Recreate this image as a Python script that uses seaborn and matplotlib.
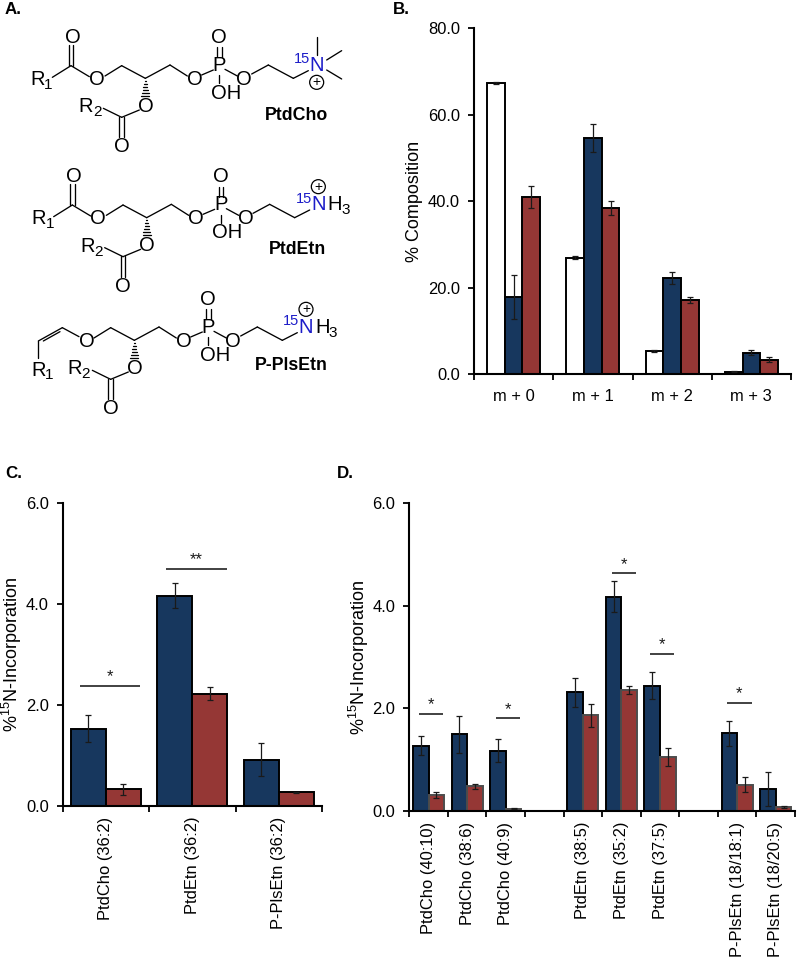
import pandas as pd
import matplotlib
matplotlib.use("Agg")
import matplotlib.pyplot as plt
from matplotlib.patches import Circle
import seaborn as sns

# === Panel B values ===
b_labels = ["m + 0", "m + 1", "m + 2", "m + 3"]
b_series = ["control", "blue", "red"]
b_control = [67.3, 26.9, 5.3, 0.5]
b_control_err = [0.2, 0.4, 0.2, 0.1]
b_blue = [17.9, 54.6, 22.2, 4.9]
b_blue_err = [5.1, 3.2, 1.4, 0.6]
b_red = [41.0, 38.5, 17.2, 3.3]
b_red_err = [2.6, 1.6, 0.7, 0.6]

# === Panel C values ===
c_labels = ["PtdCho (36:2)", "PtdEtn (36:2)", "P-PlsEtn (36:2)"]
c_blue = [1.53, 4.17, 0.91]
c_blue_err = [0.26, 0.24, 0.33]
c_red = [0.33, 2.22, 0.27]
c_red_err = [0.11, 0.13, 0.01]
c_sig_groups = [0, 1]
c_sig_heights = [2.38, 4.70]
c_sig_marks = ["*", "**"]

# === Panel D values (empty strings are the gaps between lipid classes) ===
d_labels = ["PtdCho (40:10)", "PtdCho (38:6)", "PtdCho (40:9)", "",
            "PtdEtn (38:5)", "PtdEtn (35:2)", "PtdEtn (37:5)", " ",
            "P-PlsEtn (18/18:1)", "P-PlsEtn (18/20:5)"]
d_blue = [1.27, 1.49, 1.17, None, 2.31, 4.18, 2.44, None, 1.51, 0.42]
d_blue_err = [0.18, 0.36, 0.22, None, 0.28, 0.30, 0.26, None, 0.25, 0.33]
d_red = [0.31, 0.48, 0.04, None, 1.86, 2.36, 1.05, None, 0.51, 0.08]
d_red_err = [0.06, 0.05, 0.01, None, 0.22, 0.08, 0.18, None, 0.14, 0.02]
d_sig_groups = [0, 2, 5, 6, 8]
d_sig_heights = [1.89, 1.80, 4.63, 3.06, 2.11]
d_sig_marks = ["*", "*", "*", "*", "*"]

# Structure drawing, in units of 1/3 pixel
backbone_bonds = [
    ((315, 228), (365, 197)), ((365, 197), (436, 235)), ((436, 235), (510, 195)),
    ((510, 195), (562, 228)), ((605, 225), (640, 210)), ((658, 226), (658, 250)),
    ((675, 208), (712, 228)), ((755, 222), (805, 195)), ((805, 195), (880, 235)),
    ((880, 235), (925, 212)), ((418, 330), (365, 352)), ((365, 352), (310, 325)),
]
backbone_atoms = [("O", 585, 238), ("P", 658, 197), ("O", 658, 113), ("OH", 678, 280),
                  ("O", 733, 238), ("O", 437, 318), ("O", 365, 440)]
ester_bonds = [((157, 232), (213, 197)), ((213, 197), (268, 230))]
ether_bonds = [((270, 224), (220, 197)), ((220, 197), (148, 237)), ((213, 209), (163, 237)),
               ((148, 237), (148, 289))]
methyl_bonds = [((950, 165), (950, 110)), ((980, 180), (1025, 152)), ((980, 210), (1025, 237))]

BLUE = "#17375E"
RED = "#953735"
INK = "#1a1a1a"
TICK_SIZE = 11.9
ATOM_SIZE = 14.5


def long_table(labels, series, values, errors):
    # one row per bar, category by category; gaps stay out of the table
    rows = []
    for i, label in enumerate(labels):
        for name, vals, errs in zip(series, values, errors):
            if vals[i] is not None:
                rows.append({"label": label, "series": name, "value": vals[i], "err": errs[i]})
    return pd.DataFrame(rows)


def draw_panel(rect, table, labels, palette, ymax, ystep, ylabel, label_x, width, edge="black"):
    ax = fig.add_axes([rect[0] / W, 1 - rect[3] / H, (rect[2] - rect[0]) / W, (rect[3] - rect[1]) / H])
    sns.barplot(data=table, x="label", y="value", hue="series", order=labels,
                hue_order=list(palette), palette=palette, width=width, gap=0, errorbar=None,
                edgecolor=edge, linewidth=1.4, saturation=1, legend=False, ax=ax)
    bars = sorted(ax.patches, key=lambda p: p.get_x())
    xs = [b.get_x() + b.get_width() / 2 for b in bars]
    ax.errorbar(xs, table["value"], yerr=table["err"], fmt="none", ecolor=INK,
                elinewidth=0.9, capsize=2.4, capthick=0.9, zorder=5)
    n = len(labels)
    ax.set_xlim(-0.5, n - 0.5)
    ax.set_ylim(0, ymax)
    yticks = [ystep * i for i in range(int(ymax / ystep) + 1)]
    ax.set_yticks(yticks, [f"{v:.1f}" for v in yticks])
    ax.set_xticks([i - 0.5 for i in range(n + 1)], [""] * (n + 1))
    ax.set_xticks(range(n), labels, minor=True)
    ax.tick_params(axis="x", which="major", length=4, width=1.3, direction="out", bottom=True)
    ax.tick_params(axis="x", which="minor", length=0, labelsize=TICK_SIZE)
    ax.tick_params(axis="y", length=4, width=1.3, direction="out", left=True, pad=6, labelsize=TICK_SIZE)
    ax.set_xlabel("")
    ax.set_ylabel(ylabel, fontsize=13)
    ax.yaxis.set_label_coords(label_x, 0.5)
    for side in ["top", "right"]:
        ax.spines[side].set_visible(False)
    for side in ["left", "bottom"]:
        ax.spines[side].set_linewidth(1.5)
        ax.spines[side].set_color("black")
    ax.patch.set_alpha(0)
    return ax


def add_sig(ax, groups, heights, marks, offset, half):
    for g, h, m in zip(groups, heights, marks):
        ax.plot([g + offset - half, g + offset + half], [h, h], color="#333333", lw=1.3, solid_capstyle="butt")
        ax.annotate(m, (g + offset, h), xytext=(0, 1), textcoords="offset points",
                    ha="center", va="bottom", fontsize=12, color=INK)


def draw_bonds(ax, bonds, dx, dy):
    for (x0, y0), (x1, y1) in bonds:
        ax.plot([(x0 + dx) / 3, (x1 + dx) / 3], [(y0 + dy) / 3, (y1 + dy) / 3], color="black", lw=0.95)


def atom(ax, s, x, y, dx, dy, size=ATOM_SIZE, color="black", **kw):
    ax.text((x + dx) / 3, (y + dy) / 3, s, fontsize=size, color=color, ha="center", va="center", **kw)


def draw_plus(ax, x, y, dx, dy):
    ax.add_patch(Circle(((x + dx) / 3, (y + dy) / 3), 7, fill=False, ec="black", lw=0.9))
    atom(ax, "+", x, y, dx, dy, size=10)


def draw_structure(ax, dx, dy, name, name_xy, head="amine", ether=False):
    draw_bonds(ax, backbone_bonds, dx, dy)
    for s, x, y in backbone_atoms:
        atom(ax, s, x, y, dx, dy)
    # carbonyl and phosphoryl double bonds
    draw_bonds(ax, [((652, 172), (652, 142)), ((665, 172), (665, 142)),
                    ((358, 350), (358, 412)), ((371, 350), (371, 412))], dx, dy)
    # hashed bond at the glycerol carbon
    for i in range(6):
        half = 2 + i * 2
        y = 242 + i * 9
        draw_bonds(ax, [((436 - half, y), (436 + half, y))], dx, dy)
    atom(ax, "R", 258, 320, dx, dy)
    atom(ax, "2", 291, 337, dx, dy, size=11)
    if ether:
        draw_bonds(ax, ether_bonds, dx, dy)
        atom(ax, "O", 293, 239, dx, dy)
        atom(ax, "R", 148, 324, dx, dy)
        atom(ax, "1", 181, 339, dx, dy, size=11)
    else:
        draw_bonds(ax, ester_bonds, dx, dy)
        draw_bonds(ax, [((207, 197), (207, 135)), ((220, 197), (220, 135))], dx, dy)
        atom(ax, "O", 218, 113, dx, dy)
        atom(ax, "O", 290, 238, dx, dy)
        atom(ax, "R", 112, 238, dx, dy)
        atom(ax, "1", 145, 255, dx, dy, size=11)
    atom(ax, "15", 907, 178, dx, dy, size=10.5, color="#1c1cc8")
    atom(ax, "N", 951, 197, dx, dy, color="#1c1cc8")
    if head == "choline":
        draw_bonds(ax, methyl_bonds, dx, dy)
        draw_plus(ax, 950, 247, dx, dy)
    else:
        atom(ax, "H", 1000, 197, dx, dy)
        atom(ax, "3", 1032, 212, dx, dy, size=11)
        draw_plus(ax, 951, 142, dx, dy)
    ax.text(name_xy[0], name_xy[1], name, fontsize=12.8, fontweight="bold", ha="center", va="center")


sns.set_theme(style="white")
plt.rcParams["font.family"] = ["Liberation Sans", "DejaVu Sans"]
plt.rcParams["mathtext.fontset"] = "custom"
plt.rcParams["mathtext.rm"] = "Liberation Sans"
plt.rcParams["mathtext.default"] = "regular"
plt.rcParams["text.color"] = "black"
plt.rcParams["xtick.color"] = "black"
plt.rcParams["ytick.color"] = "black"
plt.rcParams["axes.labelcolor"] = "black"

W, H = 798, 959
fig = plt.figure(figsize=(W / 100, H / 100), dpi=100, facecolor="white")

# === Panel A: structures, on a pixel canvas ===
canvas = fig.add_axes([0, 0, 1, 1])
canvas.set_xlim(0, W)
canvas.set_ylim(H, 0)
canvas.axis("off")
draw_structure(canvas, 0, 0, "PtdCho", (296, 115), head="choline")
draw_structure(canvas, 4, 418, "PtdEtn", (298, 249))
draw_structure(canvas, -33, 786, "P-PlsEtn", (291, 366), ether=True)
for letter, x, y in [("A.", 13, 10), ("B.", 401, 10), ("C.", 14, 473), ("D.", 345, 473)]:
    canvas.text(x, y, letter, fontsize=12.2, fontweight="bold", ha="center", va="center")

# === Panel B ===
b_table = long_table(b_labels, b_series, [b_control, b_blue, b_red], [b_control_err, b_blue_err, b_red_err])
ax_b = draw_panel((474, 28.3, 791, 374), b_table, b_labels,
                  {"control": "white", "blue": BLUE, "red": RED},
                  80, 20, "% Composition", -0.161, 0.67)
ax_b.tick_params(axis="x", which="minor", pad=11)

# === Panel C ===
c_table = long_table(c_labels, ["blue", "red"], [c_blue, c_red], [c_blue_err, c_red_err])
ax_c = draw_panel((62.7, 503.3, 322, 805.7), c_table, c_labels, {"blue": BLUE, "red": RED},
                  6, 2, r"%$^{15}$N-Incorporation", -0.149, 0.81)
ax_c.tick_params(axis="x", which="minor", labelrotation=90, pad=8)
add_sig(ax_c, c_sig_groups, c_sig_heights, c_sig_marks, 0.05, 0.35)

# === Panel D ===
d_table = long_table(d_labels, ["blue", "red"], [d_blue, d_red], [d_blue_err, d_red_err])
ax_d = draw_panel((409.3, 503.3, 795, 810.7), d_table, d_labels, {"blue": BLUE, "red": RED},
                  6, 2, r"%$^{15}$N-Incorporation", -0.099, 0.81)
ax_d.tick_params(axis="x", which="minor", labelrotation=90, pad=8)
add_sig(ax_d, d_sig_groups, d_sig_heights, d_sig_marks, 0.06, 0.315)
# red bars in this panel have a softer grey outline
for bar in ax_d.patches:
    if matplotlib.colors.to_hex(bar.get_facecolor()).lower() == RED.lower():
        bar.set_edgecolor("#4d4d4d")

fig.savefig("out.png", dpi=100)
